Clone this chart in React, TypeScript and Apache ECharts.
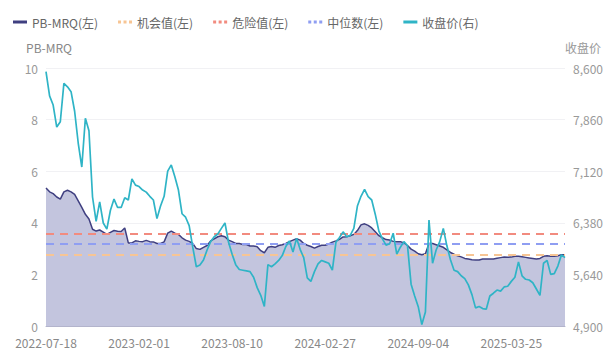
import React, { useEffect, useRef } from "react";
import * as echarts from "echarts";

// Anchor dates shown as x-axis labels (every 26th category)
const anchorDates = ["2022-07-18", "2023-02-01", "2023-08-10", "2024-02-27", "2024-09-04", "2025-03-25"];
const labelStep = 26;
const tailPoints = 16; // points after the last anchor

// PB-MRQ (left axis), roughly weekly samples
const pbValues = [
  5.35, 5.2, 5.13, 5.0, 4.92, 5.2, 5.26, 5.2, 5.1, 4.85,
  4.6, 4.33, 4.15, 3.75, 3.68, 3.72, 3.64, 3.55, 3.63, 3.7,
  3.67, 3.66, 3.8, 3.22, 3.22, 3.3, 3.28, 3.27, 3.32, 3.27,
  3.26, 3.2, 3.2, 3.26, 3.6, 3.68, 3.6, 3.55, 3.42, 3.33,
  3.28, 3.2, 3.0, 2.97, 3.05, 3.12, 3.3, 3.38, 3.46, 3.5,
  3.46, 3.33, 3.27, 3.2, 3.2, 3.16, 3.16, 3.1, 3.1, 3.07,
  2.92, 2.84, 3.05, 3.08, 3.05, 3.12, 3.15, 3.2, 3.27, 3.33,
  3.38, 3.33, 3.2, 3.13, 3.08, 3.02, 3.08, 3.13, 3.13, 3.18,
  3.25, 3.3, 3.36, 3.45, 3.46, 3.5, 3.55, 3.7, 3.92, 3.96,
  3.9, 3.8, 3.65, 3.5, 3.42, 3.35, 3.33, 3.28, 3.27, 3.27,
  3.22, 3.12, 2.98, 2.9, 2.8, 2.76, 2.8, 3.2, 3.2, 3.15,
  3.1, 3.05, 2.95, 2.85, 2.78, 2.72, 2.68, 2.62, 2.6, 2.57,
  2.56, 2.56, 2.6, 2.6, 2.6, 2.6, 2.63, 2.65, 2.67, 2.66,
  2.67, 2.7, 2.7, 2.68, 2.66, 2.64, 2.62, 2.6, 2.62, 2.7,
  2.72, 2.7, 2.7, 2.72, 2.76, 2.76,
];

// 收盘价 (right axis)
const closeValues = [
  8547, 8200, 8069, 7753, 7830, 8380, 8330, 8260, 7980, 7524,
  7180, 7880, 7700, 6750, 6400, 6680, 6377, 6290, 6560, 6720,
  6600, 6600, 6740, 6707, 7010, 6920, 6900, 6850, 6820, 6760,
  6707, 6440, 6620, 6760, 7120, 7210, 7041, 6850, 6510, 6460,
  6340, 6030, 5750, 5775, 5846, 5990, 6110, 6180, 6220, 6300,
  6377, 6100, 5930, 5780, 5710, 5700, 5690, 5680, 5600, 5450,
  5340, 5180, 5780, 5750, 5790, 5840, 5910, 6040, 6120, 5960,
  6157, 6000, 5880, 5590, 5540, 5680, 5790, 5840, 5820, 5800,
  5700, 6100, 6170, 6250, 6180, 6200, 6300, 6620, 6760, 6860,
  6754, 6707, 6500, 6260, 6150, 6060, 6080, 6230, 5930, 6030,
  6110, 6050, 5500, 5330, 5177, 4920, 5100, 6420, 5800, 5990,
  6110, 6300, 6050, 5850, 5700, 5680, 5620, 5580, 5490, 5350,
  5160, 5180, 5150, 5140, 5330, 5370, 5416, 5400, 5460, 5470,
  5540, 5600, 5820, 5620, 5570, 5560, 5520, 5430, 5340, 5800,
  5840, 5640, 5650, 5760, 5920, 5880,
];

// Reference levels (left axis)
const opportunityValue = 2.77; // 机会值
const dangerValue = 3.57; // 危险值
const medianValue = 3.19; // 中位数

const leftTicks = { min: 0, max: 10, interval: 2 };
const rightTickLabels = [4900, 5640, 6380, 7120, 7860, 8600];

function fmtDate(d: Date) {
  const y = d.getUTCFullYear();
  const m = String(d.getUTCMonth() + 1).padStart(2, "0");
  const day = String(d.getUTCDate()).padStart(2, "0");
  return `${y}-${m}-${day}`;
}

function buildCategories(): string[] {
  const out: string[] = [];
  const ms = anchorDates.map((s) => Date.parse(s + "T00:00:00Z"));
  for (let a = 0; a < ms.length - 1; a++) {
    for (let k = 0; k < labelStep; k++) {
      const t = ms[a] + ((ms[a + 1] - ms[a]) * k) / labelStep;
      out.push(k === 0 ? anchorDates[a] : fmtDate(new Date(Math.round(t / 86400000) * 86400000)));
    }
  }
  const last = ms[ms.length - 1];
  for (let k = 0; k < tailPoints; k++) {
    out.push(k === 0 ? anchorDates[anchorDates.length - 1] : fmtDate(new Date(last + k * 7 * 86400000)));
  }
  return out;
}

const categories = buildCategories().slice(0, pbValues.length);

const dotsIcon = "path://M0,0h3v3h-3zM5.5,0h3v3h-3zM11,0h3v3h-3z";
const barIcon = "path://M0,0h14v3h-14z";

export default function App() {
  const ref = useRef<HTMLDivElement>(null);
  useEffect(() => {
    if (!ref.current) return;
    const chart = echarts.init(ref.current, null, { renderer: "svg" });
    const font = "'Microsoft YaHei', 'Noto Sans CJK SC', sans-serif";
    const refLine = (name: string, value: number, color: string) => ({
      name,
      type: "line",
      yAxisIndex: 0,
      data: [],
      symbol: "none",
      color,
      lineStyle: { color, type: [3, 3], width: 2 },
      markLine: {
        silent: true,
        symbol: "none",
        label: { show: false },
        lineStyle: { color, type: [8, 6], width: 2 },
        data: [{ yAxis: value }],
      },
    });
    chart.setOption({
      animation: false,
      textStyle: { fontFamily: font },
      legend: {
        left: 8,
        top: 11,
        itemWidth: 14,
        itemHeight: 3,
        itemGap: 20,
        textStyle: { color: "#666", fontSize: 12, fontFamily: font },
        data: [
          { name: "PB-MRQ(左)", icon: barIcon, itemStyle: { color: "#3f3f80" } },
          { name: "机会值(左)", icon: dotsIcon, itemStyle: { color: "#f7c594" } },
          { name: "危险值(左)", icon: dotsIcon, itemStyle: { color: "#f28b7f" } },
          { name: "中位数(左)", icon: dotsIcon, itemStyle: { color: "#8f9ef2" } },
          { name: "收盘价(右)", icon: barIcon, itemStyle: { color: "#2fb4c6" } },
        ],
      },
      grid: { left: 46, right: 50, top: 68, bottom: 31, containLabel: false },
      xAxis: {
        type: "category",
        boundaryGap: false,
        data: categories,
        axisLine: { lineStyle: { color: "#b3b4cc", width: 1 } },
        axisTick: { show: false },
        axisLabel: { interval: labelStep - 1, color: "#888", fontSize: 12, margin: 10, fontFamily: font },
        splitLine: { show: false },
      },
      yAxis: [
        {
          type: "value",
          name: "PB-MRQ",
          nameTextStyle: { color: "#888", fontSize: 12, fontFamily: font, padding: [0, 0, 0, 6] },
          min: leftTicks.min,
          max: leftTicks.max,
          interval: leftTicks.interval,
          axisLine: { show: false },
          axisTick: { show: false },
          axisLabel: { color: "#999", fontSize: 12, margin: 8, fontFamily: font },
          splitLine: { lineStyle: { color: "#f1f1f4" } },
        },
        {
          type: "value",
          name: "收盘价",
          position: "right",
          nameTextStyle: { color: "#999", fontSize: 12, fontFamily: font, align: "left" },
          min: rightTickLabels[0],
          max: rightTickLabels[rightTickLabels.length - 1],
          axisLine: { show: false },
          axisTick: { show: false },
          axisLabel: {
            customValues: rightTickLabels,
            color: "#999",
            fontSize: 12,
            margin: 8,
            fontFamily: font,
            formatter: (v: number) => v.toLocaleString("en-US"),
          },
          splitLine: { show: false },
        },
      ],
      series: [
        {
          name: "PB-MRQ(左)",
          type: "line",
          yAxisIndex: 0,
          data: pbValues,
          symbol: "none",
          color: "#3f3f80",
          lineStyle: { color: "#3f3f80", width: 1.5 },
          areaStyle: { color: "#c3c5de", opacity: 1 },
          z: 1,
        },
        refLine("机会值(左)", opportunityValue, "#f7c594"),
        refLine("危险值(左)", dangerValue, "#f28b7f"),
        refLine("中位数(左)", medianValue, "#8f9ef2"),
        {
          name: "收盘价(右)",
          type: "line",
          yAxisIndex: 1,
          data: closeValues,
          symbol: "none",
          color: "#2fb4c6",
          lineStyle: { color: "#2fb4c6", width: 1.7 },
          z: 5,
        },
      ],
    });
    return () => chart.dispose();
  }, []);
  return <div ref={ref} style={{ width: 615, height: 357, position: "absolute", left: 0, top: 0 }} />;
}
